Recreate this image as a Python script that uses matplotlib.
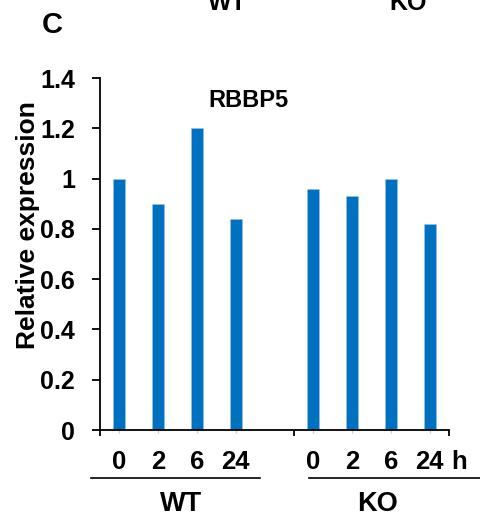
import matplotlib
matplotlib.use('Agg')
import matplotlib.pyplot as plt

plt.rcParams['font.family'] = ['Liberation Sans', 'DejaVu Sans']
plt.rcParams['font.weight'] = 'bold'

# data
time_labels = ['0', '2', '6', '24']
wt_values = [1.0, 0.9, 1.2, 0.84]
ko_values = [0.96, 0.93, 1.0, 0.82]
y_ticks = [0, 0.2, 0.4, 0.6, 0.8, 1, 1.2, 1.4]
y_tick_labels = ['0', '0.2', '0.4', '0.6', '0.8', '1', '1.2', '1.4']

wt_pos = [0, 1, 2, 3]
ko_pos = [5, 6, 7, 8]
bar_color = '#0070C0'

fig = plt.figure(figsize=(4.8, 5.18), dpi=100)
ax = fig.add_axes([100 / 480, 88 / 518, 349 / 480, 352 / 518])

ax.bar(wt_pos, wt_values, width=0.31, color=bar_color, edgecolor='#9DC3E6', linewidth=0.4)
ax.bar(ko_pos, ko_values, width=0.31, color=bar_color, edgecolor='#9DC3E6', linewidth=0.4)

ax.set_xlim(-0.5, 8.5)
ax.set_ylim(0, 1.4)
ax.set_yticks(y_ticks)
ax.set_yticklabels(y_tick_labels, fontsize=18, fontweight='bold')
ax.tick_params(axis='y', direction='out', length=6, width=1.3, pad=12)

# major x ticks at group boundaries, faint minor ticks under each bar
ax.set_xticks([-0.5, 4.5, 8.5])
ax.set_xticklabels([])
ax.tick_params(axis='x', which='major', direction='out', length=4, width=1.3)
ax.set_xticks(wt_pos + ko_pos, minor=True)
ax.tick_params(axis='x', which='minor', direction='out', length=2, width=1, color='#cccccc')

for s in ['top', 'right']:
    ax.spines[s].set_visible(False)
for s in ['left', 'bottom']:
    ax.spines[s].set_linewidth(1.3)

ax.text(3.33, 1.31, 'RBBP5', fontsize=17, fontweight='bold', ha='center', va='center')

# time labels under the bars
tr = ax.get_xaxis_transform()
for p, lab in zip(wt_pos + ko_pos, time_labels + time_labels):
    ax.text(p, -0.091, lab, transform=tr, fontsize=18.5, fontweight='bold', ha='center', va='center')
ax.text(8.77, -0.091, 'h', transform=tr, fontsize=18.5, fontweight='bold', ha='center', va='center')

# group underlines and names
ax.plot([-0.74, 3.62], [-0.136, -0.136], transform=tr, color='black', lw=1.2, clip_on=False)
ax.plot([4.9, 9.3], [-0.136, -0.136], transform=tr, color='black', lw=1.2, clip_on=False)
ax.text(1.6, -0.21, 'WT', transform=tr, fontsize=19.5, fontweight='bold', ha='center', va='center')
ax.text(6.65, -0.21, 'KO', transform=tr, fontsize=19.5, fontweight='bold', ha='center', va='center')

fig.text(28 / 480, 1 - 225 / 518, 'Relative expression', rotation=90, fontsize=19,
         fontweight='bold', ha='center', va='center')
fig.text(52 / 480, 1 - 25 / 518, 'C', fontsize=21, fontweight='bold', ha='center', va='center')

# labels of the panel above, cut off at the top edge (as in the source figure)
fig.text(227 / 480, 1 - 10 / 518, 'WT', fontsize=18, fontweight='bold', ha='center', va='baseline')
fig.text(408 / 480, 1 - 10 / 518, 'KO', fontsize=18, fontweight='bold', ha='center', va='baseline')

fig.savefig('out.png', dpi=100)
